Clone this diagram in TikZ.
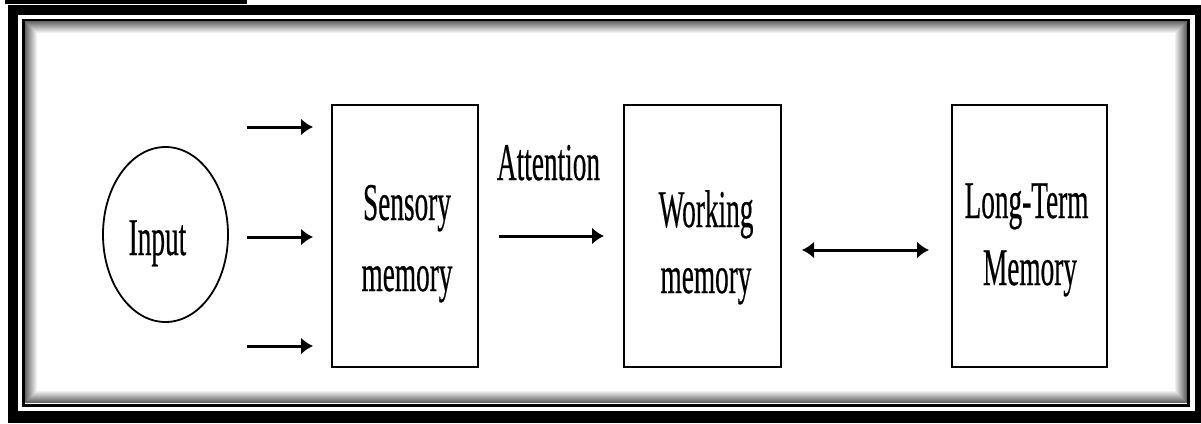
\documentclass[tikz,border=0pt]{standalone}
\usepackage{fontspec}
\setmainfont{Liberation Serif}[FakeBold=0.6]
\usepackage{graphicx}
\usetikzlibrary{arrows.meta,shapes.geometric}
\newcommand\sqz[1]{\scalebox{0.515}[1]{#1}}
\begin{document}
\begin{tikzpicture}[x=1pt,y=-1pt,
  box/.style={draw=black, line width=1.8pt, inner sep=0pt, minimum height=262pt},
  lbl/.style={font=\fontsize{53}{68}\selectfont, inner sep=0pt, anchor=base},
  arr/.style={line width=3pt, -{Latex[length=12pt,width=17pt]}},
  darr/.style={line width=3pt, {Latex[length=12pt,width=17pt]}-{Latex[length=12pt,width=17pt]}}]
\useasboundingbox (0,0) rectangle (1201,423);
\fill[white] (0,0) rectangle (1201,423);
% frame
\fill[black] (5,0) rectangle (247,4);
\fill[black] (8,5) rectangle (1201,423);
\fill[white] (18,15) rectangle (1195,411);
\draw[black, line width=3pt] (23.5,20) rectangle (1188.5,405.5);
\foreach \i in {1,...,12}{
  \pgfmathtruncatemacro\g{66-5*\i}
  \draw[black!\g, line width=1.05pt] (25+\i-0.5,21+\i-0.5) rectangle (1187-\i+0.5,403-\i+0.5);
}
% nodes
\node[draw=black, ellipse, line width=1.8pt, inner sep=0pt, minimum width=125pt, minimum height=175pt] (inp) at (165.5,234.5) {};
\node[lbl] (inpt) at (157.5,255) {\sqz{Input}};
\node[box, minimum width=146pt] (sens) at (405,236) {};
\node[lbl] (sens1) at (407,220) {\sqz{Sensory}};
\node[lbl] (sens2) at (407,291) {\sqz{memory}};
\node[box, minimum width=157pt] (work) at (702.5,236) {};
\node[lbl] (work1) at (706,227) {\sqz{Working}};
\node[lbl] (work2) at (706,293) {\sqz{memory}};
\node[box, minimum width=155pt] (ltm) at (1029.5,236) {};
\node[lbl] (ltm1) at (1026.5,218) {\sqz{Long-Term}};
\node[lbl] (ltm2) at (1030,285) {\sqz{Memory}};
\node[lbl] (att) at (548.5,180) {\sqz{Attention}};
% arrows
\coordinate (a1s) at (247,127); \coordinate (a1e) at (313,127);
\coordinate (a2s) at (247,237); \coordinate (a2e) at (313,237);
\coordinate (a3s) at (247,346); \coordinate (a3e) at (313,346);
\coordinate (ats) at (499,236); \coordinate (ate) at (604,236);
\coordinate (dls) at (802,250); \coordinate (dle) at (929,250);
\draw[arr] (a1s) -- (a1e);
\draw[arr] (a2s) -- (a2e);
\draw[arr] (a3s) -- (a3e);
\draw[arr] (ats) -- (ate);
\draw[darr] (dls) -- (dle);
\end{tikzpicture}
\end{document}
